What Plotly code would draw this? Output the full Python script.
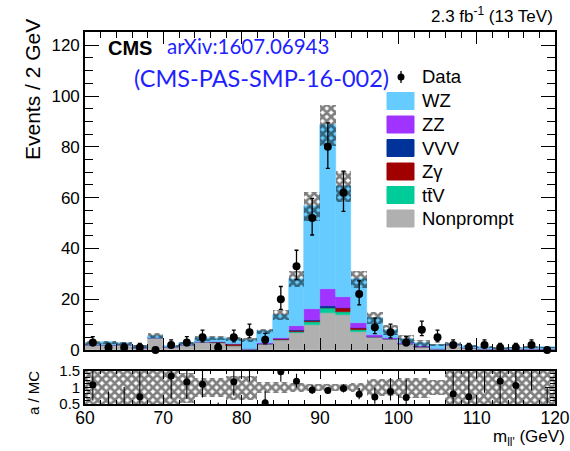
import numpy as np
import plotly.graph_objects as go

# ---------------- data ----------------
bin_lo = list(range(60, 120, 2))
centers = [b + 1 for b in bin_lo]
x_ticks = [60, 70, 80, 90, 100, 110, 120]

data_obs = [3, 1, 1, 1, 0, 2, 3, 5, 1, 5, 7, 4, 20, 33, 52, 80, 62, 22, 9, 7,
            3, 8, 5, 2, 1, 2, 1, 1, 2, 0]

nonprompt = [1.9, 2.0, 1.8, 0.9, 4.6, 1.1, 1.9, 3.2, 2.8, 1.6, 0.3, 2.3, 3.8, 6.6, 9.8,
             14.4, 13.8, 7.2, 5.0, 4.2, 2.4, 1.3, 0.2, 1.9, 0.6, 0.5, 0.4, 0.4, 0.4, 0.4]
ttv = [0, 0, 0, 0, 0, 0, 0, 0, 0, 0, 0.2, 0, 0.2, 0.6, 1.3, 2.0, 1.3, 0.7, 0.2, 0,
       0, 0, 0, 0, 0, 0, 0, 0, 0, 0]
zgamma = [0, 0, 0, 0, 0, 0, 0, 0, 0.3, 0.8, 0, 0, 0.2, 0.2, 0.2, 0.2, 1.3, 0.8, 0, 0,
          0, 0, 0, 0, 0, 0, 0, 0, 0, 0]
vvv = [0, 0, 0, 0, 0, 0, 0, 0, 0, 0, 0, 0, 0, 0.4, 0.4, 0.8, 0.3, 0.1, 0, 0,
       0, 0, 0, 0, 0, 0, 0, 0, 0, 0]
zz = [0, 0, 0, 0, 0.2, 0, 0, 0, 0.2, 0, 0, 0.6, 0.6, 1.6, 4.3, 6.5, 4.0, 1.7, 0.7, 0.7,
      0.3, 0.3, 0, 0, 0, 0, 0, 0, 0, 0]
wz = [0.9, 1.0, 0.8, 0.5, 0.8, 0.4, 0.7, 1.4, 1.5, 1.9, 3.6, 4.5, 8.9, 18.6, 40.5,
      64.6, 43.8, 17.3, 6.8, 3.1, 1.6, 1.0, 1.6, 0.6, 0.8, 0.7, 0.45, 0.55, 0.7, 0.6]

mc_unc = [0.8, 0.7, 0.6, 0.5, 0.9, 0.5, 0.6, 0.9, 0.9, 0.8, 0.8, 1.0, 2.0, 3.1, 5.6,
          8.1, 6.1, 3.2, 2.3, 2.0, 1.6, 1.3, 0.4, 0.7, 0.4, 0.3, 0.3, 0.3, 0.3, 0.3]
ratio_unc = [0.6, 0.6, 0.6, 0.6, 0.6, 0.6, 0.45, 0.28, 0.28, 0.36, 0.36, 0.17, 0.16,
             0.14, 0.11, 0.1, 0.11, 0.14, 0.25, 0.25, 0.3, 0.3, 0.22, 0.6, 0.6, 0.6,
             0.6, 0.6, 0.6, 0.6]

components = [
    ("Nonprompt", nonprompt, "#b0b0b0"),
    ("tt\u0304V", ttv, "#00cc99"),
    ("Z\u03b3", zgamma, "#a00000"),
    ("VVV", vvv, "#00339a"),
    ("ZZ", zz, "#a033ff"),
    ("WZ", wz, "#66ccff"),
]
legend_order = ["WZ", "ZZ", "VVV", "Z\u03b3", "tt\u0304V", "Nonprompt"]

# ---------------- layout geometry ----------------
W, H = 570, 451
ML, MR, MT, MB = 85, 15, 32, 47
PW = W - ML - MR
PH = H - MT - MB


def xp(px):
    return (px - ML) / PW


def yp(py):
    return (H - MB - py) / PH


main_dom = [yp(350), 1.0]
ratio_dom = [0.0, yp(370.5)]

FONT = "Liberation Sans"
HATCH = dict(shape="x", fgcolor="black", bgcolor="rgba(0,0,0,0)",
             size=6, solidity=0.7, fillmode="overlay")

fig = go.Figure()

base = np.zeros(len(centers))
for name, vals, col in components:
    v = np.array(vals, dtype=float)
    fig.add_trace(go.Bar(
        x=centers, y=v, base=base.copy(), width=2,
        marker=dict(color=col, line=dict(color=col, width=0.6)),
        name=name, showlegend=False, xaxis="x", yaxis="y"))
    base = base + v

total = base
unc = np.array(mc_unc)
fig.add_trace(go.Bar(
    x=centers, y=2 * unc, base=total - unc, width=2,
    marker=dict(color="rgba(0,0,0,0)", line=dict(width=0), pattern=HATCH),
    showlegend=False, xaxis="x", yaxis="y"))

d = np.array(data_obs, dtype=float)
err_hi = np.sqrt(d + 0.25) + 0.5
err_lo = np.sqrt(d + 0.25) - 0.5
fig.add_trace(go.Scatter(
    x=centers, y=d, mode="markers",
    marker=dict(color="black", size=8),
    error_y=dict(type="data", symmetric=False, array=err_hi, arrayminus=err_lo,
                 color="black", thickness=1.3, width=2),
    cliponaxis=False, showlegend=False, xaxis="x", yaxis="y"))

# ratio panel
runc = np.array(ratio_unc)
fig.add_trace(go.Bar(
    x=centers, y=2 * runc, base=1 - runc, width=2,
    marker=dict(color="rgba(0,0,0,0)", line=dict(width=0), pattern=HATCH),
    showlegend=False, xaxis="x2", yaxis="y2"))

ratio = d / total
fig.add_trace(go.Scatter(
    x=centers, y=ratio, mode="markers",
    marker=dict(color="black", size=7),
    error_y=dict(type="data", symmetric=False, array=err_hi / total,
                 arrayminus=err_lo / total, color="black", thickness=1.1, width=0),
    cliponaxis=True, showlegend=False, xaxis="x2", yaxis="y2"))

axis_common = dict(showline=True, linecolor="black", linewidth=1.6, mirror="allticks",
                   showgrid=False, zeroline=False, ticks="inside", tickcolor="black",
                   automargin=False)

fig.update_layout(
    width=W, height=H,
    margin=dict(l=ML, r=MR, t=MT, b=MB, pad=0, autoexpand=False),
    paper_bgcolor="white", plot_bgcolor="white",
    barmode="overlay", bargap=0,
    font=dict(family=FONT, color="black"),
    xaxis=dict(domain=[0, 1], range=[60, 120], anchor="y", showticklabels=False,
               tickmode="array", tickvals=x_ticks, ticklen=12, tickwidth=1,
               minor=dict(dtick=2, tick0=60, ticklen=6, ticks="inside", tickcolor="black"),
               **axis_common),
    yaxis=dict(domain=main_dom, range=[0, 125.2], anchor="x", tick0=0, dtick=20,
               ticklen=14, tickwidth=1, tickfont=dict(size=17),
               minor=dict(dtick=5, ticklen=8, ticks="inside", tickcolor="black"),
               **axis_common),
    xaxis2=dict(domain=[0, 1], range=[60, 120], anchor="y2",
                tickmode="array", tickvals=x_ticks, ticktext=[str(t) for t in x_ticks],
                ticklen=9, tickwidth=1, tickfont=dict(size=17.5),
                ticklabelstandoff=-3, ticklabeloverflow="allow",
                minor=dict(dtick=2, tick0=60, ticklen=4, ticks="inside", tickcolor="black"),
                **axis_common),
    yaxis2=dict(domain=ratio_dom, range=[0.5, 1.5], anchor="x2",
                tickvals=[0.5, 1, 1.5], ticktext=["0.5", "1", "1.5"],
                ticklen=10, tickwidth=1, tickfont=dict(size=15),
                ticklabeloverflow="allow",
                minor=dict(dtick=0.1, ticklen=5, ticks="inside", tickcolor="black"),
                **axis_common),
)

ann = []
ann.append(dict(text="2.3 fb<sup>-1</sup> (13 TeV)", x=xp(555), y=yp(15), xanchor="right",
                yanchor="middle", font=dict(size=17, family=FONT)))
ann.append(dict(text="<b>CMS</b>", x=xp(106), y=yp(48.5), xanchor="left", yanchor="middle",
                font=dict(size=20, family=FONT)))
ann.append(dict(text="arXiv:1607.06943", x=xp(165), y=yp(46), xanchor="left",
                yanchor="middle", font=dict(size=20.5, family="Lato", color="#1f1fff")))
ann.append(dict(text="(CMS-PAS-SMP-16-002)", x=xp(132), y=yp(78), xanchor="left",
                yanchor="middle", font=dict(size=23.5, family="Lato", color="#1f1fff")))
ann.append(dict(text="Events / 2 GeV", x=xp(32), y=yp(90), xanchor="center",
                yanchor="middle", textangle=-90, font=dict(size=21, family=FONT)))
ann.append(dict(text="a / MC", x=xp(33), y=yp(393), xanchor="center", yanchor="middle",
                textangle=-90, font=dict(size=15, family=FONT)))
ann.append(dict(text="m<sub>ll'</sub> (GeV)", x=xp(567), y=yp(451),
                xanchor="right", yanchor="bottom", font=dict(size=17, family=FONT)))

shapes = []
# legend: data entry
leg_x_sym = 401
leg_x_txt = 420
shapes.append(dict(type="line", xref="paper", yref="paper", x0=xp(leg_x_sym), x1=xp(leg_x_sym),
                   y0=yp(71), y1=yp(83), line=dict(color="black", width=1.3)))
shapes.append(dict(type="circle", xref="paper", yref="paper", xsizemode="pixel",
                   ysizemode="pixel", xanchor=xp(leg_x_sym), yanchor=yp(77),
                   x0=-3.5, x1=3.5, y0=-3.5, y1=3.5, fillcolor="black",
                   line=dict(color="black", width=0)))
ann.append(dict(text="Data", x=xp(leg_x_txt), y=yp(76), xanchor="left", yanchor="middle",
                font=dict(size=18.5, family=FONT)))
colors = {n: c for n, _, c in components}
for i, name in enumerate(legend_order):
    yc = 101 + i * 23.5
    shapes.append(dict(type="rect", xref="paper", yref="paper",
                       x0=xp(387), x1=xp(414), y0=yp(yc - 8.5), y1=yp(yc + 8.5),
                       fillcolor=colors[name], line=dict(color=colors[name], width=1),
                       layer="above"))
    ann.append(dict(text=name, x=xp(leg_x_txt), y=yp(yc), xanchor="left",
                    yanchor="middle", font=dict(size=18.5, family=FONT)))

for a in ann:
    a.update(xref="paper", yref="paper", showarrow=False)
fig.update_layout(annotations=ann, shapes=shapes)

fig.write_html("out.html")
